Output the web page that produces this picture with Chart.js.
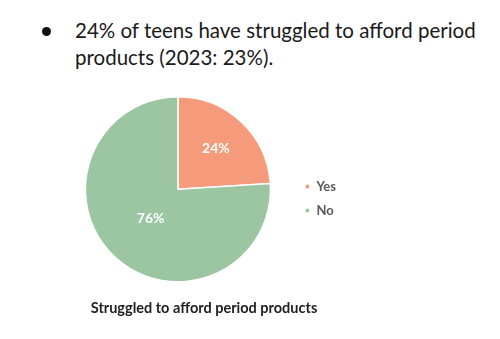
<!DOCTYPE html>
<html>
<head>
<meta charset="utf-8">
<script src="https://cdn.jsdelivr.net/npm/chart.js@4.4.0/dist/chart.umd.min.js"></script>
<style>
  html, body { margin: 0; padding: 0; background: #ffffff; }
  body { width: 500px; height: 339px; position: relative; overflow: hidden; font-family: Lato, "Open Sans", sans-serif; }
  #bullet { position: absolute; left: 42px; top: 27px; width: 9px; height: 9px; border-radius: 50%; background: #111; }
  #head { position: absolute; left: 75px; top: 17px; width: 420px; font-size: 20.5px; line-height: 27px; color: #1a1a1a; }
  #wrap { position: absolute; left: 62px; top: 92px; width: 284px; height: 229px; }
</style>
</head>
<body>
<div id="bullet"></div>
<div id="head">24% of teens have struggled to afford period<br>products (2023: 23%).</div>
<div id="wrap"><canvas id="c"></canvas></div>
<script>
const categories = ["Yes", "No"];
const values = [24, 76];
const valueLabels = ["24%", "76%"];
const chartTitle = "Struggled to afford period products";

const sliceColors = ["#F59A7B", "#9CC5A1"];
const labelRadiusFactor = [0.6, 0.43];

const sliceLabelPlugin = {
  id: "sliceLabels",
  afterLayout(chart) {
    // lift the legend block so it sits just below the pie's vertical centre
    const lg = chart.legend;
    if (lg) { lg.bottom -= 20; lg.height -= 20; }
  },
  afterDatasetsDraw(chart) {
    const ctx = chart.ctx;
    const meta = chart.getDatasetMeta(0);
    ctx.save();
    ctx.fillStyle = "#ffffff";
    ctx.font = "bold 14px Lato, sans-serif";
    ctx.textAlign = "center";
    ctx.textBaseline = "middle";
    meta.data.forEach((arc, i) => {
      const p = arc.getProps(["x", "y", "startAngle", "endAngle", "outerRadius"], true);
      const mid = (p.startAngle + p.endAngle) / 2;
      const r = p.outerRadius * labelRadiusFactor[i];
      ctx.fillText(valueLabels[i], p.x + Math.cos(mid) * r, p.y + Math.sin(mid) * r);
    });
    ctx.restore();
  }
};

new Chart(document.getElementById("c"), {
  type: "pie",
  data: {
    labels: categories,
    datasets: [{
      data: values,
      backgroundColor: sliceColors,
      borderColor: "#ffffff",
      borderWidth: 1.5
    }]
  },
  options: {
    responsive: true,
    maintainAspectRatio: false,
    animation: false,
    layout: { padding: { top: 4, left: 0, right: 0, bottom: 0 } },
    plugins: {
      tooltip: { enabled: false },
      legend: {
        position: "right",
        align: "center",
        labels: {
          boxWidth: 5,
          boxHeight: 5,
          padding: 11,
          color: "#595959",
          font: { family: "Lato", size: 13, weight: "bold" }
        }
      },
      title: {
        display: true,
        position: "bottom",
        text: chartTitle,
        color: "#222222",
        font: { family: "Lato", size: 14.5, weight: "bold" },
        padding: { top: 17, bottom: 4 }
      }
    }
  },
  plugins: [sliceLabelPlugin]
});
</script>
</body>
</html>
